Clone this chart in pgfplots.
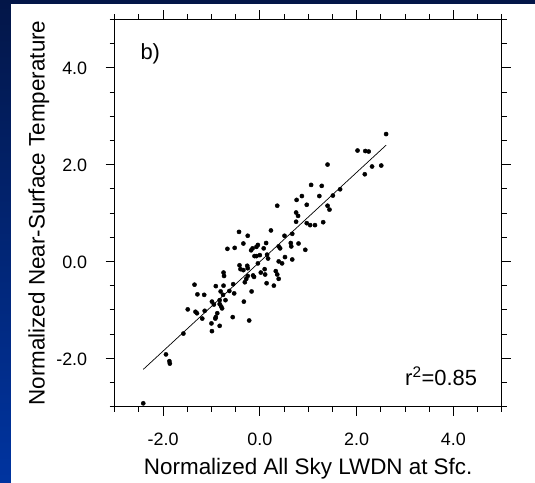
\documentclass[border=0pt]{standalone}
\usepackage{fontspec}
\setmainfont{Liberation Sans}
\usepackage{pgfplots}
\pgfplotsset{compat=1.18}
\definecolor{navytop}{RGB}{3,22,72}
\definecolor{bluebot}{RGB}{0,52,160}
\begin{document}
\begin{tikzpicture}[x=1bp,y=1bp]
\useasboundingbox (0,0) rectangle (535,483);
\shade[top color=navytop,bottom color=bluebot] (0,0) rectangle (535,483);
\fill[white] (11,0) rectangle (535,479);
\begin{axis}[
  at={(114.7bp,76.3bp)}, anchor=south west,
  scale only axis, width=387bp, height=387.4bp,
  xmin=-3, xmax=5, ymin=-3, ymax=5,
  xtick={-2,0,2,4}, ytick={-2,0,2,4},
  xticklabels={-2.0,0.0,2.0,4.0},
  yticklabels={-2.0,0.0,2.0,4.0},
  minor xtick={-3,-2.5,...,5}, minor ytick={-3,-2.5,...,5},
  tick align=outside,
  major tick length=9bp, minor tick length=5bp,
  every tick/.style={black, line width=0.8bp},
  axis line style={line width=0.9bp},
  ticklabel style={font=\fontsize{18}{21}\selectfont},
  xticklabel style={anchor=base, yshift=-30bp},
  yticklabel style={anchor=east, xshift=-15bp, yshift=-1bp},
  xlabel={Normalized All Sky LWDN at Sfc.},
  ylabel={Normalized Near-Surface Temperature},
  label style={font=\fontsize{22.5}{26}\selectfont},
  xlabel style={at={(axis description cs:0.5,-0.176)}, anchor=base},
  ylabel style={at={(axis description cs:-0.181,0.5)}, anchor=base, rotate=0},
  clip=false,
]
\addplot[only marks, mark=*, mark size=2.1bp, black] coordinates {
(2.61,2.63) (2.02,2.29) (2.18,2.28) (2.25,2.27) (2.51,1.98) (2.32,1.96)
(2.17,1.80) (1.40,2.00) (1.66,1.49) (1.51,1.36) (1.06,1.58) (1.28,1.56)
(1.23,1.35) (0.87,1.35) (0.76,1.27) (0.97,1.17) (0.36,1.15) (1.40,1.15)
(1.44,1.07) (0.75,1.01) (0.79,0.94) (0.75,0.82) (0.97,0.79) (1.04,0.75)
(1.14,0.75) (1.31,0.81) (0.23,0.64) (0.67,0.57) (0.51,0.53) (-0.43,0.61)
(-0.25,0.53) (-0.34,0.37) (0.13,0.38) (-0.04,0.34) (-0.07,0.30) (-0.15,0.27)
(-0.18,0.23) (-0.52,0.28) (-0.67,0.26) (0.08,0.27) (0.39,0.31) (0.42,0.27)
(0.64,0.38) (0.65,0.31) (0.80,0.37) (0.94,0.24) (-0.11,0.11) (-0.07,0.11)
(0.00,0.13) (0.15,0.14) (0.17,0.06) (-0.04,-0.04) (0.39,0.00) (0.52,0.09)
(0.67,0.04) (0.46,-0.04) (0.02,-0.23) (0.10,-0.16) (0.11,-0.27) (-0.14,-0.29)
(-0.12,-0.32) (-0.25,-0.30) (-0.28,-0.36) (-0.31,-0.43) (-0.42,-0.08) (-0.40,-0.16)
(-0.34,-0.18) (-0.26,-0.09) (-0.25,-0.14) (0.33,-0.20) (0.36,-0.27) (0.39,-0.36)
(0.29,-0.50) (0.14,-0.45) (-0.75,-0.23) (-0.74,-0.30) (-0.55,-0.47) (-0.75,-0.50)
(-0.91,-0.51) (-1.35,-0.48) (-0.63,-0.61) (-0.81,-0.62) (-0.76,-0.69) (-0.53,-0.66)
(-0.17,-0.62) (-1.29,-0.68) (-1.15,-0.69) (-0.83,-0.80) (-0.99,-0.83) (-0.95,-0.89)
(-0.83,-0.88) (-0.71,-0.80) (-0.80,-0.93) (-0.78,-0.97) (-0.33,-0.83) (-1.49,-0.99)
(-1.33,-1.04) (-1.30,-1.07) (-1.14,-1.02) (-0.88,-1.07) (-0.91,-1.15) (-1.19,-1.18)
(-0.56,-1.15) (-0.92,-1.18) (-0.22,-1.22) (-1.00,-1.28) (-0.83,-1.33) (-0.99,-1.44)
(-1.58,-1.49) (-1.94,-1.92) (-1.87,-2.06) (-1.86,-2.11) (-2.41,-2.93)
};
\addplot[black, line width=0.7bp] coordinates {(-2.41,-2.23) (2.61,2.40)};
\node[anchor=base west, font=\fontsize{22}{26}\selectfont] at (axis description cs:0.0576,0.8975) {b)};
\node[anchor=base west, font=\fontsize{22}{26}\selectfont] at (axis description cs:0.7416,0.056) {r\textsuperscript{2}=0.85};
\end{axis}
\end{tikzpicture}
\end{document}
